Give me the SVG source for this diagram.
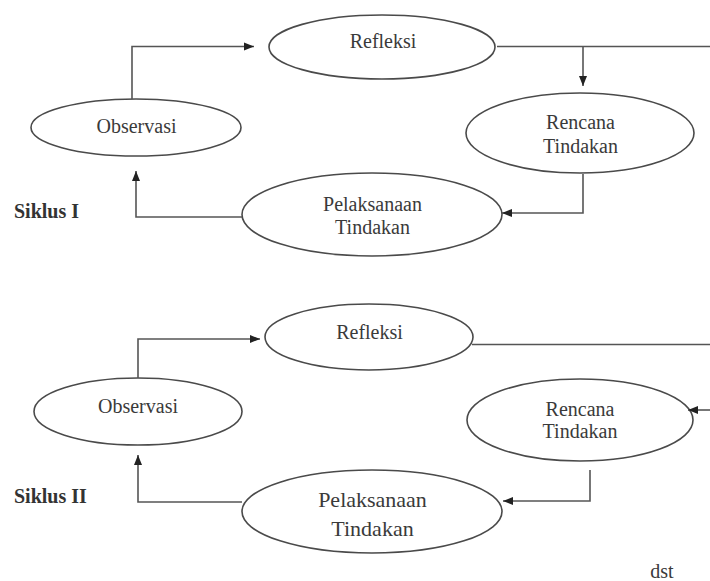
<svg xmlns="http://www.w3.org/2000/svg" width="710" height="581" viewBox="0 0 710 581">
<style>
  .node ellipse { fill: #ffffff; stroke: #4a4a4a; stroke-width: 1.6; }
  .lbl { font-family: "Liberation Serif", "Times New Roman", serif; font-size: 20px; fill: #3a3a3a; text-anchor: middle; }
  .big { font-size: 22px; }
  .cyc { font-family: "Liberation Serif", "Times New Roman", serif; font-size: 20px; font-weight: bold; fill: #333333; }
  .conn path { fill: none; stroke: #555555; stroke-width: 1.6; }
</style>
<defs>
  <marker id="arr" markerUnits="userSpaceOnUse" markerWidth="10" markerHeight="10" viewBox="0 0 10 10" refX="10" refY="5" orient="auto">
    <path d="M0,1 L10,5 L0,9 Z" fill="#222222"/>
  </marker>
</defs>
<rect width="710" height="581" fill="#ffffff"/>

<!-- Cycle I -->
<g id="refleksi1" class="node">
  <ellipse cx="382" cy="47" rx="113" ry="32"/>
  <text class="lbl" x="383" y="48">Refleksi</text>
</g>
<g id="observasi1" class="node">
  <ellipse cx="136" cy="127.5" rx="105" ry="28.5"/>
  <text class="lbl" x="136.5" y="133">Observasi</text>
</g>
<g id="rencana1" class="node">
  <ellipse cx="580" cy="133" rx="114" ry="40"/>
  <text class="lbl" x="580.5" y="129">Rencana</text>
  <text class="lbl" x="580.5" y="153">Tindakan</text>
</g>
<g id="pelaksanaan1" class="node">
  <ellipse cx="372" cy="214.5" rx="130" ry="41.5"/>
  <text class="lbl" x="372.5" y="211">Pelaksanaan</text>
  <text class="lbl" x="372.5" y="234">Tindakan</text>
</g>
<text id="siklus1" class="cyc" x="14" y="218">Siklus I</text>

<!-- Cycle II -->
<g id="refleksi2" class="node">
  <ellipse cx="369" cy="337" rx="104" ry="33"/>
  <text class="lbl" x="369.5" y="339">Refleksi</text>
</g>
<g id="observasi2" class="node">
  <ellipse cx="138" cy="411.5" rx="104" ry="33.5"/>
  <text class="lbl" x="138" y="413">Observasi</text>
</g>
<g id="rencana2" class="node">
  <ellipse cx="580" cy="420" rx="113" ry="41"/>
  <text class="lbl" x="580" y="416">Rencana</text>
  <text class="lbl" x="580" y="438">Tindakan</text>
</g>
<g id="pelaksanaan2" class="node">
  <ellipse cx="372" cy="511.5" rx="130" ry="41.5"/>
  <text class="lbl big" x="372.5" y="507">Pelaksanaan</text>
  <text class="lbl big" x="372.5" y="536">Tindakan</text>
</g>
<text id="siklus2" class="cyc" x="14" y="503">Siklus II</text>
<text id="dst" class="lbl" x="662" y="578">dst</text>

<g id="connectors" class="conn">
  <!-- Cycle I -->
  <path d="M132,99 V46.5 H254" marker-end="url(#arr)"/>
  <path d="M497,46.5 H710"/>
  <path d="M583,46.5 V86" marker-end="url(#arr)"/>
  <path d="M583,174 V213 H502" marker-end="url(#arr)"/>
  <path d="M242,217 H136 V171" marker-end="url(#arr)"/>
  <!-- Cycle II -->
  <path d="M138,378 V339 H260" marker-end="url(#arr)"/>
  <path d="M472,344.5 H710"/>
  <path d="M710,410 H688" marker-end="url(#arr)"/>
  <path d="M590,470 V501 H503" marker-end="url(#arr)"/>
  <path d="M242,502 H138 V455" marker-end="url(#arr)"/>
</g>
</svg>
